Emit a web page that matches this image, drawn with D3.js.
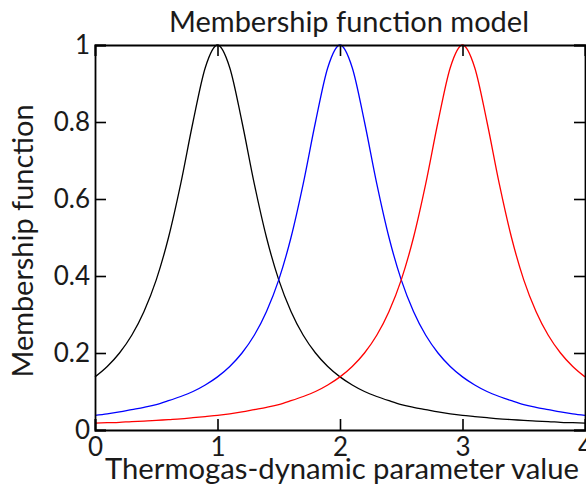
<!DOCTYPE html>
<html><head><meta charset="utf-8">
<script src="https://cdn.jsdelivr.net/npm/d3@7"></script>
<style>html,body{margin:0;padding:0;background:#fff;}svg{display:block;}</style>
</head><body>
<script>
const xValues = [0,0.1,0.2,0.3,0.4,0.5,0.6,0.7,0.8,0.9,1,1.1,1.2,1.3,1.4,1.5,1.6,1.7,1.8,1.9,2,2.1,2.2,2.3,2.4,2.5,2.6,2.7,2.8,2.9,3,3.1,3.2,3.3,3.4,3.5,3.6,3.7,3.8,3.9,4];
const blackSeries = [0.138,0.165,0.2,0.246,0.308,0.39,0.5,0.64,0.8,0.941,1,0.941,0.8,0.64,0.5,0.39,0.308,0.246,0.2,0.165,0.138,0.117,0.1,0.087,0.076,0.066,0.059,0.053,0.047,0.042,0.038,0.035,0.032,0.029,0.027,0.025,0.023,0.022,0.02,0.019,0.018];
const blueSeries = [0.038,0.042,0.047,0.053,0.059,0.066,0.076,0.087,0.1,0.117,0.138,0.165,0.2,0.246,0.308,0.39,0.5,0.64,0.8,0.941,1,0.941,0.8,0.64,0.5,0.39,0.308,0.246,0.2,0.165,0.138,0.117,0.1,0.087,0.076,0.066,0.059,0.053,0.047,0.042,0.038];
const redSeries = [0.018,0.019,0.02,0.022,0.023,0.025,0.027,0.029,0.032,0.035,0.038,0.042,0.047,0.053,0.059,0.066,0.076,0.087,0.1,0.117,0.138,0.165,0.2,0.246,0.308,0.39,0.5,0.64,0.8,0.941,1,0.941,0.8,0.64,0.5,0.39,0.308,0.246,0.2,0.165,0.138];
const xTicks = [0,1,2,3,4];
const yTicks = [0,0.2,0.4,0.6,0.8,1];
const yTickLabels = ["0","0.2","0.4","0.6","0.8","1"];
const titleText = "Membership function model";
const xLabelText = "Thermogas-dynamic parameter value";
const yLabelText = "Membership function";

const W = 586, H = 487;
const FONT = "Lato, 'Open Sans', sans-serif";
const TXT = "#1a1a1a";
const svg = d3.select("body").append("svg").attr("width", W).attr("height", H);

const x = d3.scaleLinear().domain([0,4]).range([95,585]);
const y = d3.scaleLinear().domain([0,1]).range([430,45]);

const series = [
  {vals: blackSeries, color: "#000000"},
  {vals: blueSeries, color: "#0000ff"},
  {vals: redSeries, color: "#ff0000"}
];
const line = d3.line().x(d => x(d[0])).y(d => y(d[1])).curve(d3.curveMonotoneX);
series.forEach(s => {
  svg.append("path")
    .datum(xValues.map((xv,i) => [xv, s.vals[i]]))
    .attr("d", line).attr("fill","none")
    .attr("stroke", s.color).attr("stroke-width", 1.3);
});

// axes
const TL = 11;
const gB = svg.append("g").attr("transform","translate(0,430)")
  .call(d3.axisBottom(x).tickValues(xTicks).tickSize(-TL).tickPadding(8).tickFormat(d3.format("d")));
const gL = svg.append("g").attr("transform","translate(95,0)")
  .call(d3.axisLeft(y).tickValues(yTicks).tickSize(-TL).tickPadding(5).tickFormat((d,i)=>yTickLabels[i]));
const gT = svg.append("g").attr("transform","translate(0,45)")
  .call(d3.axisTop(x).tickValues(xTicks).tickSize(-TL).tickFormat(""));
const gR = svg.append("g").attr("transform","translate(585,0)")
  .call(d3.axisRight(y).tickValues(yTicks).tickSize(-TL).tickFormat(""));
[gB,gL,gT,gR].forEach(g => {
  g.select(".domain").attr("stroke","#000").attr("stroke-width",1.8);
  g.selectAll(".tick line").attr("stroke","#000").attr("stroke-width",1.6);
  g.selectAll(".tick text").attr("fill",TXT).style("font-family",FONT).style("font-size","26px");
});
gB.selectAll(".tick text").attr("dy","0.71em");
gL.selectAll(".tick text").attr("x", -5);

function fitText(t, target){
  let fs = 26;
  t.style("font-size", fs+"px");
  const w = t.node().getComputedTextLength();
  fs = fs * target / w;
  t.style("font-size", fs.toFixed(2)+"px");
}

const title = svg.append("text").attr("x",349).attr("y",32).attr("text-anchor","middle")
  .attr("fill",TXT).style("font-family",FONT).text(titleText);
fitText(title, 360);

const xl = svg.append("text").attr("x",342).attr("y",479).attr("text-anchor","middle")
  .attr("fill",TXT).style("font-family",FONT).text(xLabelText);
fitText(xl, 474);

const yl = svg.append("text").attr("transform","translate(33,241) rotate(-90)").attr("text-anchor","middle")
  .attr("fill",TXT).style("font-family",FONT).text(yLabelText);
fitText(yl, 273);
</script>
</body></html>
